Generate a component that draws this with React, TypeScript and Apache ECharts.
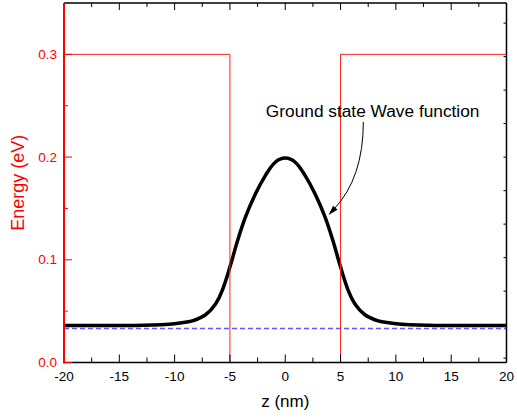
import React, { useEffect, useRef } from "react";
import * as echarts from "echarts";

// Ground-state wave function (offset by energy), z in nm, value in eV units
const waveZ = [-20, -15, -12, -10.5, -9.5, -8.4, -7.2, -6.3, -5.7, -5, -4.3, -3.6, -2.7, -1.8, -0.9, 0,
  0.9, 1.8, 2.7, 3.6, 4.3, 5, 5.7, 6.3, 7.2, 8.4, 9.5, 10.5, 12, 15, 20];
const waveE = [0.036, 0.036, 0.0365, 0.0373, 0.0385, 0.0405, 0.0465, 0.057, 0.070, 0.093, 0.119, 0.1415, 0.164, 0.182, 0.195, 0.199,
  0.195, 0.182, 0.164, 0.1415, 0.119, 0.093, 0.070, 0.057, 0.0465, 0.0405, 0.0385, 0.0373, 0.0365, 0.036, 0.036];

// Potential well profile
const wellZ = [-20, -5, -5, 5, 5, 20];
const wellE = [0.3, 0.3, 0, 0, 0.3, 0.3];

// Ground state energy level
const levelZ = [-20, 20];
const levelE = [0.033, 0.033];

// Tick positions
const xMajorTicks = [-20, -15, -10, -5, 0, 5, 10, 15, 20];
const xMinorTicks = [-17.5, -12.5, -7.5, -2.5, 2.5, 7.5, 12.5, 17.5];
const yMajorTicks = [0, 0.1, 0.2, 0.3];
const yMinorTicks = [0.05, 0.15, 0.25];
const rightTicks = [0.13, 1.13, 2.13, 3.13, 4.13, 5.13, 6.13, 7.13, 8.13, 9.13, 10.13];

const X_MIN = -20, X_MAX = 20, Y_MIN = 0, Y_MAX = 0.35, R_MAX = 10.73;

const annotationText = "Ground state Wave function";
const annotationAt = [7.9, 0.2449];
const arrowStart = [7.06, 0.2342];
const arrowCtrl = [7.06, 0.1797];
const arrowTip = [3.91, 0.1436];

const FONT = "'Liberation Sans', Arial, sans-serif";

export default function App() {
  const ref = useRef<HTMLDivElement>(null);
  useEffect(() => {
    document.body.style.margin = "0";
    const chart = echarts.init(ref.current!, null, { renderer: "svg" });
    const zip = (a: number[], b: number[]) => a.map((v, i) => [v, b[i]]);

    chart.setOption({
      animation: false,
      textStyle: { fontFamily: FONT },
      grid: { left: 64, top: 3, width: 445, height: 359.5, containLabel: false },
      xAxis: [
        {
          type: "value",
          min: X_MIN,
          max: X_MAX,
          interval: 5,
          position: "bottom",
          splitLine: { show: false },
          axisLine: { show: false },
          axisTick: { show: false },
          name: "z (nm)",
          nameLocation: "middle",
          nameGap: 30,
          nameTextStyle: { fontSize: 17, color: "#000", fontFamily: FONT },
          axisLabel: { show: true, margin: 7, fontSize: 13.5, color: "#000", fontFamily: FONT },
        },
      ],
      yAxis: [
        {
          type: "value",
          min: Y_MIN,
          max: Y_MAX,
          interval: 0.1,
          position: "left",
          splitLine: { show: false },
          axisLine: { show: false },
          axisTick: { show: false },
          name: "Energy (eV)",
          nameLocation: "middle",
          nameGap: 35,
          nameTextStyle: { fontSize: 18, color: "#ff0000", fontFamily: FONT },
          axisLabel: {
            show: true,
            showMaxLabel: false,
            margin: 7,
            fontSize: 13.5,
            color: "#ff0000",
            fontFamily: FONT,
            formatter: (v: number) => v.toFixed(1),
          },
        },
        {
          type: "value",
          min: 0,
          max: R_MAX,
          position: "right",
          splitLine: { show: false },
          axisLine: { show: false },
          axisTick: { show: false },
          axisLabel: { show: false },
        },
      ],
      series: [
        {
          type: "line",
          data: zip(levelZ, levelE),
          showSymbol: false,
          lineStyle: { color: "#5a5aff", width: 1.5, type: [5, 3] },
          z: 2,
        },
        {
          type: "line",
          data: zip(waveZ, waveE),
          smooth: 0.35,
          showSymbol: false,
          lineStyle: { color: "#000", width: 3.5 },
          z: 3,
        },
        {
          type: "line",
          data: zip(wellZ, wellE),
          showSymbol: false,
          lineStyle: { color: "#ff2020", width: 1 },
          z: 4,
        },
      ],
    });

    const p = (v: number[]) => chart.convertToPixel({ gridIndex: 0 }, v) as number[];
    const pr = (v: number) => chart.convertToPixel({ yAxisIndex: 1 }, v) as number;
    const [xl, yb] = p([X_MIN, Y_MIN]);
    const [xr, yt] = p([X_MAX, Y_MAX]);

    const seg = (x1: number, y1: number, x2: number, y2: number, stroke: string, lineWidth: number, z = 30) => ({
      type: "line",
      shape: { x1, y1, x2, y2 },
      style: { stroke, lineWidth },
      z,
      silent: true,
    });

    const frame: any[] = [];
    xMajorTicks.forEach((v) => {
      const x = p([v, 0])[0];
      frame.push(seg(x, yb, x, yb - 8, "#000", 1));
      frame.push(seg(x, yt, x, yt + 7, "#000", 1));
    });
    xMinorTicks.forEach((v) => {
      const x = p([v, 0])[0];
      frame.push(seg(x, yb, x, yb - 5, "#000", 1));
      frame.push(seg(x, yt, x, yt + 4, "#000", 1));
    });
    rightTicks.forEach((v) => {
      const y = pr(v);
      frame.push(seg(xr, y, xr - 3, y, "#000", 1));
    });
    frame.push(seg(xl, yt, xr, yt, "#000", 1.5));
    frame.push(seg(xr, yt, xr, yb, "#000", 1.5));
    frame.push(seg(xl, yb, xr, yb, "#000", 1.5));
    yMajorTicks.forEach((v) => {
      const y = p([0, v])[1];
      frame.push(seg(xl, y, xl + 8, y, "#ff0000", 1, 31));
    });
    yMinorTicks.forEach((v) => {
      const y = p([0, v])[1];
      frame.push(seg(xl, y, xl + 4, y, "#ff0000", 1, 31));
    });
    frame.push(seg(xl, yt, xl, yb + 1, "#ff0000", 2, 31));

    const t = p(annotationAt);
    const s = p(arrowStart);
    const c = p(arrowCtrl);
    const tip = p(arrowTip);
    const dx = tip[0] - c[0];
    const dy = tip[1] - c[1];
    const len = Math.hypot(dx, dy);
    const ux = dx / len;
    const uy = dy / len;
    const headL = 10;
    const headW = 3;
    const bx = tip[0] - ux * headL;
    const by = tip[1] - uy * headL;
    chart.setOption({
      graphic: [
        ...frame,
        {
          type: "text",
          x: t[0],
          y: t[1],
          style: {
            text: annotationText,
            fontSize: 17.3,
            fontFamily: FONT,
            fill: "#000",
            align: "center",
            verticalAlign: "middle",
          },
          z: 10,
        },
        {
          type: "bezierCurve",
          shape: { x1: s[0], y1: s[1], cpx1: c[0], cpy1: c[1], x2: bx + ux * 2, y2: by + uy * 2 },
          style: { stroke: "#000", lineWidth: 1, fill: "none" },
          z: 10,
        },
        {
          type: "polygon",
          shape: {
            points: [
              [tip[0], tip[1]],
              [bx - uy * headW, by + ux * headW],
              [bx + uy * headW, by - ux * headW],
            ],
          },
          style: { fill: "#000" },
          z: 10,
        },
      ],
    });
    return () => chart.dispose();
  }, []);
  return <div ref={ref} style={{ width: 517, height: 419 }} />;
}
